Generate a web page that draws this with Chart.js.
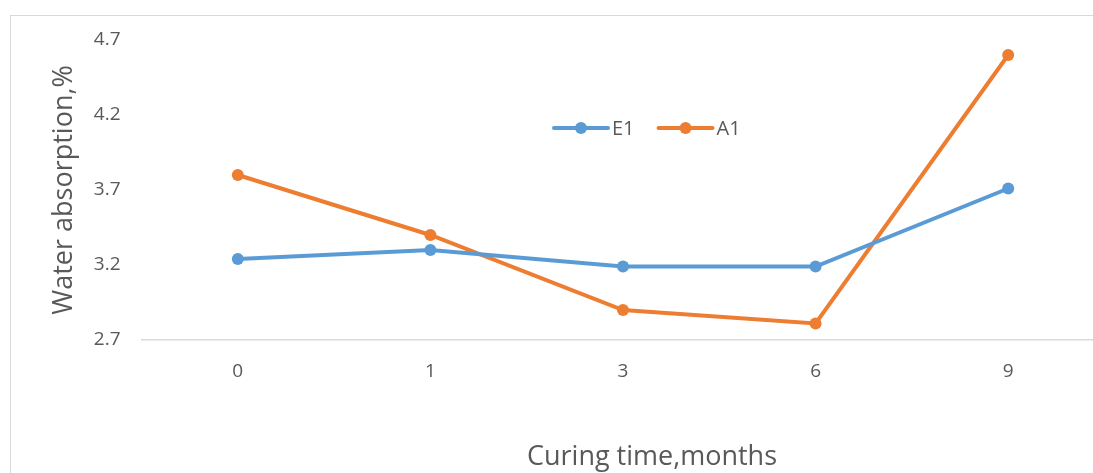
<!DOCTYPE html>
<html>
<head>
<meta charset="utf-8">
<script src="https://cdn.jsdelivr.net/npm/chart.js@4/dist/chart.umd.min.js"></script>
<style>
  html, body { margin: 0; padding: 0; background: #fff; overflow: hidden; }
  #frame { position: absolute; left: 10px; top: 15px; width: 1300px; height: 700px;
           border-left: 1px solid #d9d9d9; border-top: 1px solid #d9d9d9; }
  #wrap { position: absolute; left: 0; top: 0; width: 1120px; height: 473px; }
</style>
</head>
<body>
<div id="frame"></div>
<div id="wrap"><canvas id="c"></canvas></div>
<script>
// Curing time (months) and water absorption (%) for the two mixes
const curingMonths = ['0', '1', '3', '6', '9'];
const e1Values = [3.24, 3.30, 3.19, 3.19, 3.71];
const a1Values = [3.80, 3.40, 2.90, 2.81, 4.60];
const seriesNames = ['E1', 'A1'];
const yTicks = [2.7, 3.2, 3.7, 4.2, 4.7];
const xTitle = 'Curing time,months';
const yTitle = 'Water absorption,%';

const BLUE = '#5B9BD5';
const ORANGE = '#ED7D31';
const TEXT = '#595959';
const FONT = "'Open Sans', 'Noto Sans', sans-serif";

// Legend drawn inside the plot (line + marker + label per series) and the x-axis title
const annotations = {
  id: 'annotations',
  afterDraw(chart) {
    const ctx = chart.ctx;
    const y = 128;
    let x = 554;
    ctx.save();
    ctx.font = '20px ' + FONT;
    ctx.textBaseline = 'middle';
    chart.data.datasets.forEach(ds => {
      const len = 54;
      ctx.strokeStyle = ds.borderColor;
      ctx.lineWidth = 4;
      ctx.lineCap = 'round';
      ctx.beginPath();
      ctx.moveTo(x, y);
      ctx.lineTo(x + len, y);
      ctx.stroke();
      ctx.fillStyle = ds.borderColor;
      ctx.beginPath();
      ctx.arc(x + len / 2, y, 6, 0, Math.PI * 2);
      ctx.fill();
      ctx.fillStyle = TEXT;
      ctx.textAlign = 'left';
      ctx.fillText(ds.label, x + len + 4, y + 1);
      x += len + 4 + ctx.measureText(ds.label).width + 24;
    });

    ctx.font = '27px ' + FONT;
    ctx.textAlign = 'center';
    ctx.fillStyle = TEXT;
    ctx.fillText(xTitle, 652, 457);
    ctx.restore();
  }
};

new Chart(document.getElementById('c'), {
  type: 'line',
  data: {
    labels: curingMonths,
    datasets: [
      { label: seriesNames[0], data: e1Values, borderColor: BLUE, backgroundColor: BLUE,
        borderWidth: 4, pointRadius: 6, pointBackgroundColor: BLUE, pointBorderWidth: 0,
        tension: 0, clip: false },
      { label: seriesNames[1], data: a1Values, borderColor: ORANGE, backgroundColor: ORANGE,
        borderWidth: 4, pointRadius: 6, pointBackgroundColor: ORANGE, pointBorderWidth: 0,
        tension: 0, clip: false }
    ]
  },
  options: {
    responsive: true,
    maintainAspectRatio: false,
    animation: false,
    layout: { padding: { left: 0, right: 15.5, top: 40, bottom: 0 } },
    plugins: { legend: { display: false }, tooltip: { enabled: false } },
    scales: {
      x: {
        offset: true,
        grid: { display: false, drawTicks: false },
        border: { display: true, color: '#d9d9d9', width: 1.5 },
        ticks: { color: TEXT, font: { family: FONT, size: 19 }, padding: 20 },
        afterFit(scale) { scale.height = 133; }
      },
      y: {
        min: 2.7, max: 4.7,
        afterBuildTicks(scale) { scale.ticks = yTicks.map(v => ({ value: v })); },
        grid: { display: false, drawTicks: false },
        border: { display: false },
        ticks: { color: TEXT, font: { family: FONT, size: 19 }, padding: 21,
                 callback: v => v.toFixed(1) },
        title: { display: true, text: yTitle, color: TEXT,
                 font: { family: FONT, size: 27 }, padding: { top: 48, bottom: 0 } },
        afterFit(scale) { scale.width = 141.5; }
      }
    }
  },
  plugins: [annotations]
});
</script>
</body>
</html>
